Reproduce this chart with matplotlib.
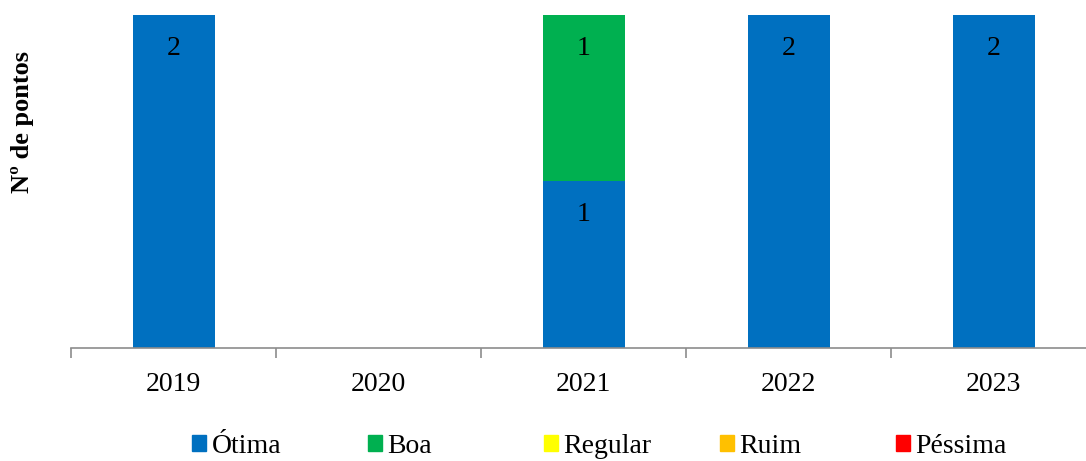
import matplotlib
matplotlib.use('Agg')
import matplotlib.pyplot as plt
from matplotlib.patches import Patch
import numpy as np

# Data
years = ['2019', '2020', '2021', '2022', '2023']
series = ['Ótima', 'Boa', 'Regular', 'Ruim', 'Péssima']
otima = [2, 0, 1, 2, 2]
boa = [0, 0, 1, 0, 0]
regular = [0, 0, 0, 0, 0]
ruim = [0, 0, 0, 0, 0]
pessima = [0, 0, 0, 0, 0]
colors = ['#0070C0', '#00B050', '#FFFF00', '#FFC000', '#FF0000']

plt.rcParams['font.family'] = ['Liberation Serif', 'DejaVu Serif']

W, H = 1086, 461
fig = plt.figure(figsize=(W / 100, H / 100), dpi=100)
# axes placed in pixel terms: x 71..1096, y 15..348 (from top)
ax = fig.add_axes([71 / W, (H - 348) / H, 1025 / W, 333 / H])

x = np.arange(len(years))
bottom = np.zeros(len(years))
for name, vals, c in zip(series, [otima, boa, regular, ruim, pessima], colors):
    vals = np.array(vals, dtype=float)
    bars = ax.bar(x, vals, 0.4, bottom=bottom, color=c, label=name)
    for b, v, btm in zip(bars, vals, bottom):
        if v > 0:
            ax.annotate(f'{int(v)}', (b.get_x() + b.get_width() / 2, btm + v),
                        xytext=(0, -15), textcoords='offset points',
                        ha='center', va='top', fontsize=20, color='black')
    bottom += vals

ax.set_xlim(-0.5, len(years) - 0.5)
ax.set_ylim(0, 2)
for s in ['top', 'right', 'left']:
    ax.spines[s].set_visible(False)
ax.spines['bottom'].set_color('#8c8c8c')
ax.spines['bottom'].set_linewidth(1.2)
ax.set_yticks([])

# tick marks at category boundaries, labels at centers
ax.set_xticks(np.arange(len(years) + 1) - 0.5)
ax.set_xticklabels([])
ax.tick_params(axis='x', which='major', length=7, width=1.2, color='#8c8c8c')
ax.set_xticks(x, minor=True)
ax.set_xticklabels(years, minor=True, fontsize=20)
ax.tick_params(axis='x', which='minor', length=0, pad=17)

fig.text(22 / W, 1 - 122 / H, 'Nº de pontos', rotation=90, ha='center', va='center',
         fontsize=19, fontweight='bold')

# legend entries spaced evenly like the original
for i, (name, c) in enumerate(zip(series, colors)):
    xl = (192 + i * 176) / W
    fig.legend(handles=[Patch(color=c)], labels=[name], loc='center left',
               bbox_to_anchor=(xl, 1 - 446 / H), frameon=False, fontsize=20,
               handlelength=0.5, handleheight=0.5, handletextpad=0.2,
               borderpad=0, borderaxespad=0)

fig.savefig('out.png', dpi=100)
